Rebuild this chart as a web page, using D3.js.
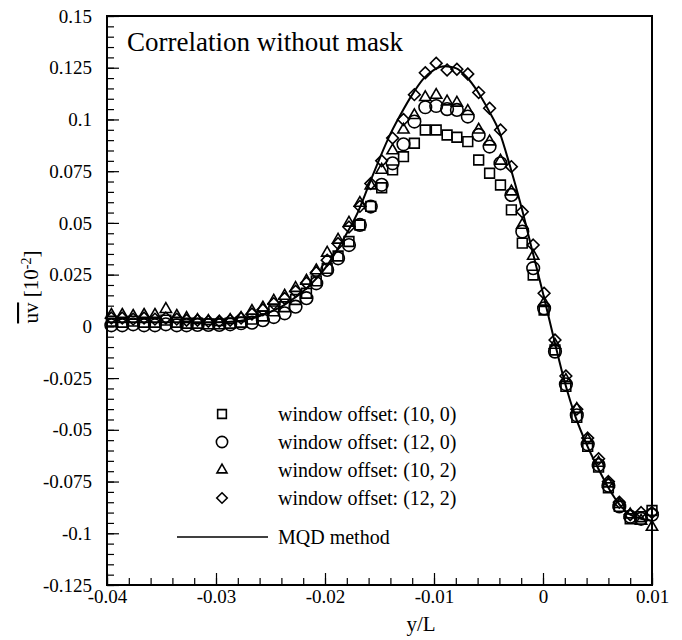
<!DOCTYPE html>
<html>
<head>
<meta charset="utf-8">
<script src="https://cdn.jsdelivr.net/npm/d3@7"></script>
<style>
  body { margin: 0; background: #fff; }
  svg text { font-family: "Liberation Serif", "Times New Roman", serif; }
</style>
</head>
<body>
<div id="chart"></div>
<script>
// sample positions y/L
const xs = [-0.0396, -0.0386, -0.0376, -0.0366, -0.0356, -0.0346, -0.0336, -0.0327, -0.0317, -0.0307,
  -0.0297, -0.0287, -0.0277, -0.0267, -0.0257, -0.0247, -0.0237, -0.0227, -0.0217, -0.0208,
  -0.0198, -0.0188, -0.0178, -0.0168, -0.0158, -0.0148, -0.0138, -0.0128, -0.0118, -0.0108,
  -0.0098, -0.0088, -0.0079, -0.0069, -0.0059, -0.0049, -0.0039, -0.0029, -0.0019, -0.0009,
  0.0001, 0.0011, 0.0021, 0.0031, 0.0041, 0.0051, 0.0060, 0.0070, 0.0080, 0.0090, 0.0100];

const off10_0 = [0.0025, 0.002, 0.0025, 0.002, 0.002, 0.003, 0.002, 0.0015, 0.0015, 0.0012,
  0.0012, 0.0015, 0.002, 0.0035, 0.005, 0.0075, 0.0095, 0.013, 0.016, 0.022,
  0.028, 0.034, 0.041, 0.049, 0.058, 0.067, 0.0756, 0.082, 0.0885, 0.0949,
  0.0949, 0.0925, 0.0914, 0.0893, 0.0804, 0.074, 0.0683, 0.0563, 0.0402, 0.0248,
  0.0079, -0.0114, -0.029, -0.044, -0.058, -0.068, -0.078, -0.087, -0.093, -0.092, -0.089];

const off12_0 = [0.0005, 0.0005, 0.001, 0.0005, 0.0005, 0.001, 0.0005, 0.0005, 0.0007, 0.0007,
  0.0007, 0.001, 0.0015, 0.0018, 0.003, 0.0045, 0.0063, 0.0095, 0.0136, 0.0208,
  0.0273, 0.0329, 0.0393, 0.049, 0.0579, 0.0684, 0.0788, 0.088, 0.099, 0.1059,
  0.1065, 0.105, 0.1046, 0.1014, 0.0925, 0.0869, 0.0788, 0.0635, 0.0458, 0.0281,
  0.0087, -0.0122, -0.028, -0.043, -0.057, -0.067, -0.077, -0.087, -0.092, -0.093, -0.091];

const off10_2 = [0.0055, 0.0055, 0.005, 0.0055, 0.0055, 0.0083, 0.005, 0.004, 0.003, 0.0025,
  0.002, 0.003, 0.004, 0.0074, 0.009, 0.0123, 0.0147, 0.0185, 0.022, 0.027,
  0.0355, 0.0418, 0.05, 0.0596, 0.068, 0.0756, 0.085, 0.095, 0.102, 0.1107,
  0.1118, 0.1086, 0.108, 0.104, 0.095, 0.0893, 0.08, 0.0651, 0.049, 0.034,
  0.0112, -0.009, -0.026, -0.04, -0.055, -0.066, -0.076, -0.086, -0.091, -0.094, -0.097];

const off12_2 = [0.004, 0.004, 0.0035, 0.004, 0.0035, 0.004, 0.0035, 0.003, 0.003, 0.0025,
  0.0025, 0.003, 0.004, 0.006, 0.008, 0.011, 0.0135, 0.017, 0.021, 0.026,
  0.032, 0.04, 0.048, 0.058, 0.069, 0.08, 0.091, 0.1, 0.112, 0.1226,
  0.1272, 0.1239, 0.1243, 0.122, 0.113, 0.1054, 0.0949, 0.0772, 0.0554, 0.0393,
  0.016, -0.0066, -0.024, -0.04, -0.054, -0.064, -0.075, -0.085, -0.091, -0.09, -0.09];

// MQD method curve
const mqdX = [-0.04, -0.035, -0.03, -0.028, -0.027, -0.026, -0.025, -0.024, -0.023, -0.022,
  -0.021, -0.02, -0.019, -0.018, -0.017, -0.016, -0.015, -0.014, -0.013, -0.012,
  -0.011, -0.01, -0.009, -0.008, -0.007, -0.006, -0.005, -0.004, -0.003, -0.002,
  -0.001, 0, 0.001, 0.002, 0.003, 0.004, 0.005, 0.006, 0.007, 0.008, 0.009, 0.01];
const mqdY = [0.002, 0.002, 0.002, 0.0025, 0.0035, 0.005, 0.007, 0.0095, 0.013, 0.017,
  0.022, 0.028, 0.036, 0.045, 0.055, 0.068, 0.081, 0.093, 0.103, 0.112,
  0.1195, 0.124, 0.1257, 0.1248, 0.1205, 0.1135, 0.1045, 0.094, 0.077, 0.058,
  0.037, 0.016, -0.006, -0.027, -0.044, -0.057, -0.068, -0.078, -0.086, -0.091, -0.093, -0.094];

const xMajor = [-0.04, -0.03, -0.02, -0.01, 0, 0.01];
const yMajor = [0.15, 0.125, 0.1, 0.075, 0.05, 0.025, 0, -0.025, -0.05, -0.075, -0.1, -0.125];
const legendLabels = ['window offset: (10, 0)', 'window offset: (12, 0)',
  'window offset: (10, 2)', 'window offset: (12, 2)', 'MQD method'];

const width = 682, height = 640;
const m = { left: 107, right: 30, top: 16, bottom: 55 };
const serif = '"Liberation Serif", "Times New Roman", serif';

const x = d3.scaleLinear().domain([-0.04, 0.01]).range([m.left, width - m.right]);
const y = d3.scaleLinear().domain([-0.125, 0.15]).range([height - m.bottom, m.top]);

// diamond as a square turned 45 degrees
const diamond = {
  draw(ctx, size) {
    const r = Math.sqrt(size) / 2 * 1.35;
    ctx.moveTo(0, -r); ctx.lineTo(r, 0); ctx.lineTo(0, r); ctx.lineTo(-r, 0); ctx.closePath();
  }
};
const markers = [
  { data: off10_0, type: d3.symbolSquare, size: 95 },
  { data: off12_0, type: d3.symbolCircle, size: 125 },
  { data: off10_2, type: d3.symbolTriangle, size: 55 },
  { data: off12_2, type: diamond, size: 75 }
];

const svg = d3.select('#chart').append('svg')
  .attr('width', width).attr('height', height)
  .attr('font-family', serif);

const fmt = d => (d === 0 ? '0' : String(d).replace('\u2212', '-'));

// minor ticks
svg.append('g')
  .attr('transform', `translate(${m.left},0)`)
  .call(d3.axisLeft(y).ticks(55).tickSize(-7).tickFormat(''))
  .call(g => g.select('.domain').remove());
svg.append('g')
  .attr('transform', `translate(0,${height - m.bottom})`)
  .call(d3.axisBottom(x).ticks(25).tickSize(-7).tickFormat(''))
  .call(g => g.select('.domain').remove());

// major ticks + labels
svg.append('g')
  .attr('transform', `translate(${m.left},0)`)
  .call(d3.axisLeft(y).tickValues(yMajor).tickSize(-12).tickPadding(15).tickFormat(fmt))
  .call(g => g.select('.domain').remove())
  .call(g => g.attr('font-family', serif))
  .selectAll('text').attr('font-size', 19).attr('fill', '#000');
svg.append('g')
  .attr('transform', `translate(0,${height - m.bottom})`)
  .call(d3.axisBottom(x).tickValues(xMajor).tickSize(-12).tickPadding(5).tickFormat(fmt))
  .call(g => g.select('.domain').remove())
  .call(g => g.attr('font-family', serif))
  .selectAll('text').attr('font-size', 19).attr('fill', '#000');

svg.selectAll('.tick line').attr('stroke', '#000').attr('stroke-width', 1.2);

// frame
svg.append('rect')
  .attr('x', m.left).attr('y', m.top)
  .attr('width', width - m.left - m.right).attr('height', height - m.top - m.bottom)
  .attr('fill', 'none').attr('stroke', '#000').attr('stroke-width', 2);

// MQD line
const line = d3.line().x((d, i) => x(mqdX[i])).y(d => y(d)).curve(d3.curveMonotoneX);
svg.append('path').datum(mqdY)
  .attr('d', line).attr('fill', 'none').attr('stroke', '#000').attr('stroke-width', 2);

// markers
markers.forEach(s => {
  svg.append('g').selectAll('path').data(s.data).join('path')
    .attr('transform', (d, i) => `translate(${x(xs[i])},${y(d)})`)
    .attr('d', d3.symbol().type(s.type).size(s.size))
    .attr('fill', 'none').attr('stroke', '#000').attr('stroke-width', 1.6);
});

// title
svg.append('text').attr('x', 127).attr('y', 51)
  .attr('font-size', 27).attr('font-family', serif).text('Correlation without mask');

// legend
const legend = svg.append('g').attr('font-size', 20).attr('font-family', serif);
const rowY = [414, 442, 470, 498, 537];
markers.forEach((s, i) => {
  legend.append('path')
    .attr('transform', `translate(222,${rowY[i]})`)
    .attr('d', d3.symbol().type(s.type).size(s.size * 0.8))
    .attr('fill', 'none').attr('stroke', '#000').attr('stroke-width', 1.6);
});
legend.append('line').attr('x1', 177).attr('x2', 268).attr('y1', rowY[4]).attr('y2', rowY[4])
  .attr('stroke', '#000').attr('stroke-width', 1.5);
legend.selectAll('text.lbl').data(legendLabels).join('text')
  .attr('x', 278).attr('y', (d, i) => rowY[i] + 7).text(d => d);

// axis titles
svg.append('text').attr('x', 421).attr('y', 631).attr('text-anchor', 'middle')
  .attr('font-size', 21).attr('font-family', serif).text('y/L');

const yt = svg.append('text')
  .attr('transform', 'translate(38,287) rotate(-90)')
  .attr('text-anchor', 'middle').attr('font-size', 21).attr('font-family', serif);
yt.append('tspan').attr('text-decoration', 'overline').text('uv');
yt.append('tspan').text(' [10');
yt.append('tspan').attr('dy', -7).attr('font-size', 14).text('-2');
yt.append('tspan').attr('dy', 7).text(']');
</script>
</body>
</html>
